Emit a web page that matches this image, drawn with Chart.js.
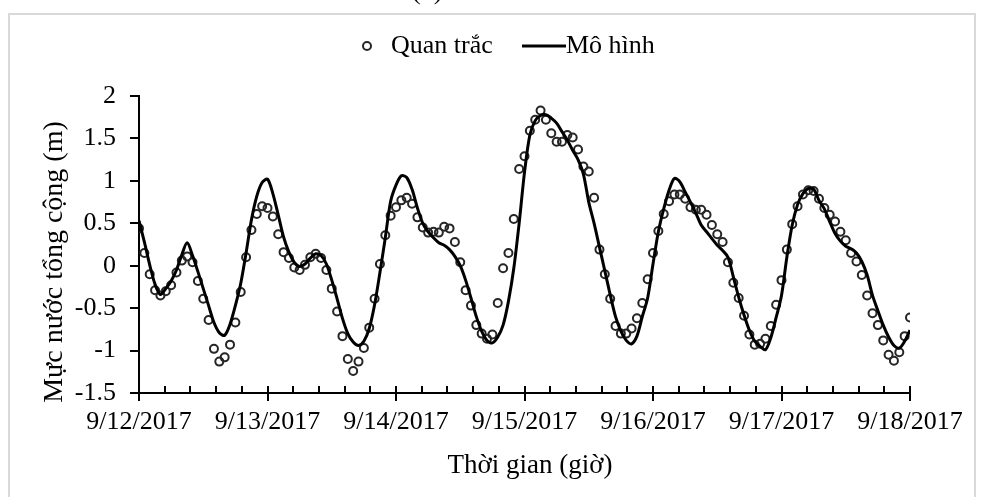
<!DOCTYPE html>
<html>
<head>
<meta charset="utf-8">
<script src="https://cdn.jsdelivr.net/npm/chart.js@4"></script>
<style>
html, body { margin: 0; padding: 0; background: #fff; overflow: hidden; }
#wrap { position: relative; width: 981px; height: 497px; }
#cap { position: absolute; left: 412px; top: -24px; font: 26px "Liberation Serif"; color: #000; z-index: 2; }
canvas { position: absolute; left: 0; top: 0; }
</style>
</head>
<body>
<div id="wrap">
  <div id="cap">(b)</div>
  <canvas id="myChart" width="981" height="497"></canvas>
</div>
<script>
// x labels (one per day), values are hourly
const dayLabels = ['9/12/2017', '9/13/2017', '9/14/2017', '9/15/2017', '9/16/2017', '9/17/2017', '9/18/2017']

// Quan trac (observed), hourly from 9/12 00:00
const quanTrac = [
  0.44, 0.15, -0.10, -0.29, -0.35, -0.30, -0.23, -0.08, 0.06, 0.11, 0.04, -0.18, -0.39, -0.64, -0.98, -1.13, -1.08, -0.93, -0.67, -0.31, 0.10, 0.42, 0.61, 0.70,
  0.68, 0.58, 0.37, 0.16, 0.09, -0.02, -0.05, 0.01, 0.10, 0.14, 0.09, -0.05, -0.27, -0.54, -0.83, -1.10, -1.24, -1.13, -0.97, -0.73, -0.39, 0.02, 0.36, 0.59,
  0.69, 0.77, 0.80, 0.73, 0.57, 0.45, 0.39, 0.40, 0.39, 0.46, 0.44, 0.28, 0.04, -0.29, -0.47, -0.70, -0.80, -0.86, -0.81, -0.44, -0.03, 0.15, 0.55, 1.14,
  1.29, 1.59, 1.72, 1.83, 1.72, 1.56, 1.46, 1.46, 1.54, 1.51, 1.37, 1.17, 1.11, 0.80, 0.19, -0.10, -0.39, -0.71, -0.80, -0.80, -0.74, -0.62, -0.44, -0.16,
  0.15, 0.41, 0.61, 0.76, 0.84, 0.84, 0.79, 0.69, 0.66, 0.66, 0.60, 0.48, 0.37, 0.28, 0.04, -0.20, -0.38, -0.59, -0.81, -0.93, -0.92, -0.86, -0.71, -0.46,
  -0.17, 0.19, 0.49, 0.70, 0.84, 0.89, 0.88, 0.79, 0.68, 0.60, 0.52, 0.40, 0.30, 0.15, 0.05, -0.11, -0.35, -0.56, -0.70, -0.88, -1.05, -1.12, -1.02, -0.83,
  -0.61
]

// Mo hinh (model), hourly
const moHinh = [
  0.53, 0.28, 0.01, -0.22, -0.34, -0.27, -0.18, -0.05, 0.13, 0.27, 0.12, -0.07, -0.27, -0.47, -0.67, -0.79, -0.82, -0.69, -0.47, -0.21, 0.15, 0.54, 0.82, 0.98,
  1.02, 0.85, 0.60, 0.34, 0.16, 0.04, -0.01, 0.02, 0.09, 0.14, 0.12, 0.02, -0.17, -0.39, -0.62, -0.80, -0.90, -0.94, -0.89, -0.74, -0.46, -0.08, 0.33, 0.76,
  0.95, 1.06, 1.04, 0.90, 0.68, 0.50, 0.40, 0.33, 0.27, 0.24, 0.19, 0.11, 0.00, -0.17, -0.38, -0.60, -0.77, -0.88, -0.91, -0.84, -0.70, -0.42, -0.03, 0.50,
  1.10, 1.54, 1.71, 1.77, 1.78, 1.74, 1.68, 1.58, 1.48, 1.36, 1.25, 1.08, 0.75, 0.50, 0.22, -0.06, -0.34, -0.60, -0.77, -0.88, -0.92, -0.83, -0.60, -0.38,
  0.02, 0.40, 0.67, 0.89, 1.03, 0.99, 0.87, 0.75, 0.62, 0.48, 0.40, 0.32, 0.24, 0.18, 0.10, -0.13, -0.37, -0.58, -0.76, -0.89, -0.95, -0.99, -0.85, -0.61,
  -0.35, 0.10, 0.48, 0.72, 0.85, 0.91, 0.90, 0.77, 0.67, 0.52, 0.38, 0.29, 0.23, 0.20, 0.15, 0.05, -0.11, -0.35, -0.53, -0.70, -0.84, -0.94, -0.97, -0.89,
  -0.76
]

const yTicks = [-1.5, -1, -0.5, 0, 0.5, 1, 1.5, 2]

const yTitle = 'Mực nước tổng cộng (m)'
const xTitle = 'Thời gian (giờ)'
const FONT = '"Liberation Serif", "Times New Roman", serif'

// gray frame round the whole chart
const frame = {
  id: 'frame',
  beforeDraw(chart) {
    const ctx = chart.ctx
    ctx.save()
    ctx.fillStyle = '#fff'
    ctx.fillRect(0, 0, chart.width, chart.height)
    ctx.strokeStyle = '#d9d9d9'
    ctx.lineWidth = 2
    ctx.strokeRect(9, 14, 966, 492)
    ctx.restore()
  }
}

// inside ticks on the x axis (major + minor every 0.2 day), titles and legend
const extras = {
  id: 'extras',
  afterDraw(chart) {
    const ctx = chart.ctx
    const x = chart.scales.x
    const yb = chart.chartArea.bottom
    ctx.save()
    ctx.strokeStyle = '#000'
    ctx.lineWidth = 2
    for (let k = 0; k <= 30; k++) {
      const px = Math.round(x.getPixelForValue(k * 4.8))
      ctx.beginPath()
      ctx.moveTo(px, yb)
      ctx.lineTo(px, yb - 7)
      ctx.stroke()
    }

    ctx.fillStyle = '#000'
    ctx.font = '27px ' + FONT
    ctx.textAlign = 'center'
    ctx.textBaseline = 'middle'
    ctx.fillText(xTitle, 530, 466)
    ctx.save()
    ctx.translate(55, 262)
    ctx.rotate(-Math.PI / 2)
    ctx.font = '28px ' + FONT
    ctx.fillText(yTitle, 0, 0)
    ctx.restore()

    // legend
    const ds = chart.data.datasets
    const ly = 46
    ctx.font = '26px ' + FONT
    ctx.textAlign = 'left'
    ctx.strokeStyle = '#262626'
    ctx.lineWidth = 2
    ctx.beginPath()
    ctx.arc(367, ly, 4, 0, Math.PI * 2)
    ctx.stroke()
    ctx.fillText(ds[0].label, 391, ly)
    ctx.strokeStyle = '#000'
    ctx.lineWidth = 3
    ctx.beginPath()
    ctx.moveTo(522, ly)
    ctx.lineTo(566, ly)
    ctx.stroke()
    ctx.fillText(ds[1].label, 566, ly)
    ctx.restore()
  }
}

const ctx = document.getElementById('myChart')

const data = {
  datasets: [
    {
      label: 'Quan trắc',
      data: quanTrac.map((v, i) => ({ x: i, y: v })),
      showLine: false,
      pointRadius: 4,
      pointBorderWidth: 2,
      pointBorderColor: '#262626',
      pointBackgroundColor: 'rgba(0,0,0,0)',
      order: 2
    },
    {
      label: 'Mô hình',
      data: moHinh.map((v, i) => ({ x: i, y: v })),
      borderColor: '#000',
      borderWidth: 3,
      pointRadius: 0,
      tension: 0.3,
      fill: false,
      order: 1
    }
  ]
}

const config = {
  type: 'line',
  data: data,
  options: {
    responsive: false,
    animation: false,
    events: [],
    layout: { padding: { left: 0, right: 71, top: 96, bottom: 0 } },
    plugins: { legend: { display: false }, tooltip: { enabled: false } },
    scales: {
      x: {
        type: 'linear',
        min: 0,
        max: 144,
        afterBuildTicks: s => { s.ticks = dayLabels.map((d, i) => ({ value: i * 24 })) },
        afterFit: s => { s.height = 104 },
        ticks: {
          callback: v => dayLabels[Math.round(v / 24)],
          font: { family: FONT, size: 26 },
          color: '#000',
          maxRotation: 0,
          autoSkip: false,
          padding: 6
        },
        grid: { drawOnChartArea: false, drawTicks: true, tickLength: 8, color: '#000', lineWidth: 2 },
        border: { display: true, color: '#000', width: 2 }
      },
      y: {
        min: -1.5,
        max: 2,
        afterBuildTicks: s => { s.ticks = yTicks.map(v => ({ value: v })) },
        afterFit: s => { s.width = 139 },
        ticks: {
          callback: v => String(v),
          font: { family: FONT, size: 26 },
          color: '#000',
          padding: 14
        },
        grid: { drawOnChartArea: false, drawTicks: true, tickLength: 9, color: '#000', lineWidth: 2 },
        border: { display: true, color: '#000', width: 2 }
      }
    }
  },
  plugins: [frame, extras]
}

const myChart = new Chart(ctx, config)
</script>
</body>
</html>
